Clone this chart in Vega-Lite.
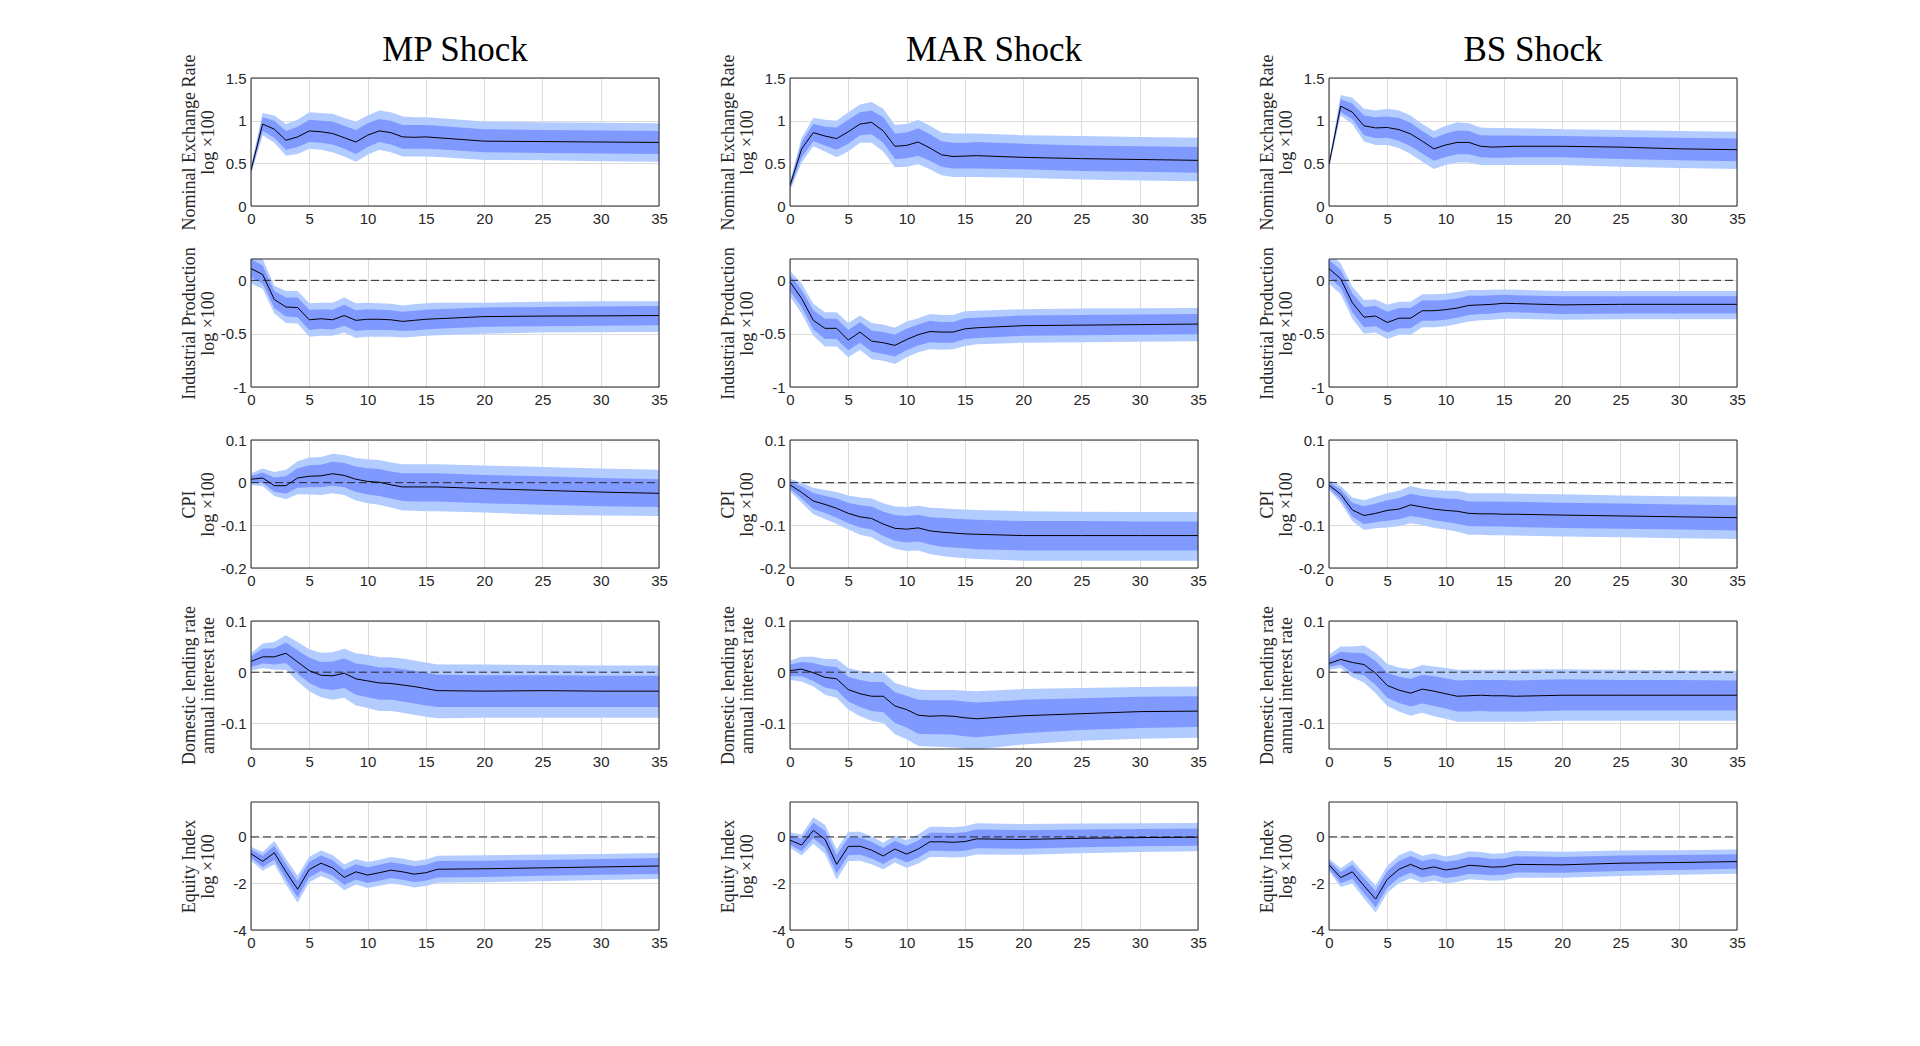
{
  "$schema": "https://vega.github.io/schema/vega-lite/v6.json",
  "background": "white",
  "padding": {"left": 180, "top": 33, "right": 5, "bottom": 5},
  "columns": 3,
  "bounds": "flush",
  "spacing": {"row": 53, "column": 131},
  "datasets": {
    "mp_ner": [
      {"h":0,"irf":0.42,"lo90":0.37,"hi90":0.47,"lo68":0.39,"hi68":0.45},
      {"h":1,"irf":0.96,"lo90":0.83,"hi90":1.09,"lo68":0.88,"hi68":1.04},
      {"h":2,"irf":0.90,"lo90":0.74,"hi90":1.06,"lo68":0.80,"hi68":1.00},
      {"h":3,"irf":0.77,"lo90":0.59,"hi90":0.96,"lo68":0.66,"hi68":0.88},
      {"h":4,"irf":0.81,"lo90":0.61,"hi90":1.01,"lo68":0.69,"hi68":0.93},
      {"h":5,"irf":0.88,"lo90":0.67,"hi90":1.10,"lo68":0.75,"hi68":1.01},
      {"h":6,"irf":0.87,"lo90":0.66,"hi90":1.09,"lo68":0.74,"hi68":1.00},
      {"h":7,"irf":0.85,"lo90":0.63,"hi90":1.08,"lo68":0.72,"hi68":0.99},
      {"h":8,"irf":0.80,"lo90":0.58,"hi90":1.03,"lo68":0.67,"hi68":0.94},
      {"h":9,"irf":0.75,"lo90":0.52,"hi90":0.99,"lo68":0.61,"hi68":0.89},
      {"h":10,"irf":0.83,"lo90":0.60,"hi90":1.06,"lo68":0.69,"hi68":0.97},
      {"h":11,"irf":0.88,"lo90":0.66,"hi90":1.12,"lo68":0.75,"hi68":1.02},
      {"h":12,"irf":0.86,"lo90":0.63,"hi90":1.10,"lo68":0.72,"hi68":1.00},
      {"h":13,"irf":0.81,"lo90":0.58,"hi90":1.05,"lo68":0.67,"hi68":0.95},
      {"h":14,"irf":0.805,"lo90":0.58,"hi90":1.04,"lo68":0.67,"hi68":0.95},
      {"h":15,"irf":0.81,"lo90":0.58,"hi90":1.04,"lo68":0.67,"hi68":0.95},
      {"h":16,"irf":0.80,"lo90":0.575,"hi90":1.03,"lo68":0.665,"hi68":0.94},
      {"h":20,"irf":0.76,"lo90":0.54,"hi90":0.99,"lo68":0.63,"hi68":0.90},
      {"h":25,"irf":0.755,"lo90":0.535,"hi90":0.98,"lo68":0.62,"hi68":0.89},
      {"h":30,"irf":0.75,"lo90":0.525,"hi90":0.975,"lo68":0.615,"hi68":0.885},
      {"h":35,"irf":0.745,"lo90":0.52,"hi90":0.97,"lo68":0.61,"hi68":0.88}
    ],
    "mar_ner": [
      {"h":0,"irf":0.24,"lo90":0.18,"hi90":0.29,"lo68":0.20,"hi68":0.27},
      {"h":1,"irf":0.67,"lo90":0.51,"hi90":0.80,"lo68":0.57,"hi68":0.75},
      {"h":2,"irf":0.86,"lo90":0.70,"hi90":1.03,"lo68":0.76,"hi68":0.96},
      {"h":3,"irf":0.82,"lo90":0.64,"hi90":1.01,"lo68":0.71,"hi68":0.93},
      {"h":4,"irf":0.79,"lo90":0.57,"hi90":1.00,"lo68":0.66,"hi68":0.92},
      {"h":5,"irf":0.87,"lo90":0.64,"hi90":1.10,"lo68":0.73,"hi68":1.01},
      {"h":6,"irf":0.96,"lo90":0.74,"hi90":1.19,"lo68":0.83,"hi68":1.10},
      {"h":7,"irf":0.98,"lo90":0.74,"hi90":1.22,"lo68":0.84,"hi68":1.12},
      {"h":8,"irf":0.88,"lo90":0.64,"hi90":1.14,"lo68":0.74,"hi68":1.04},
      {"h":9,"irf":0.70,"lo90":0.455,"hi90":0.95,"lo68":0.55,"hi68":0.85},
      {"h":10,"irf":0.71,"lo90":0.46,"hi90":0.96,"lo68":0.56,"hi68":0.86},
      {"h":11,"irf":0.75,"lo90":0.49,"hi90":1.01,"lo68":0.59,"hi68":0.91},
      {"h":12,"irf":0.68,"lo90":0.43,"hi90":0.94,"lo68":0.53,"hi68":0.84},
      {"h":13,"irf":0.60,"lo90":0.36,"hi90":0.86,"lo68":0.46,"hi68":0.76},
      {"h":14,"irf":0.58,"lo90":0.34,"hi90":0.85,"lo68":0.44,"hi68":0.74},
      {"h":15,"irf":0.585,"lo90":0.34,"hi90":0.85,"lo68":0.44,"hi68":0.74},
      {"h":16,"irf":0.59,"lo90":0.34,"hi90":0.85,"lo68":0.44,"hi68":0.75},
      {"h":20,"irf":0.57,"lo90":0.33,"hi90":0.83,"lo68":0.43,"hi68":0.73},
      {"h":25,"irf":0.555,"lo90":0.31,"hi90":0.82,"lo68":0.41,"hi68":0.71},
      {"h":30,"irf":0.545,"lo90":0.30,"hi90":0.81,"lo68":0.40,"hi68":0.70},
      {"h":35,"irf":0.535,"lo90":0.29,"hi90":0.80,"lo68":0.39,"hi68":0.69}
    ],
    "bs_ner": [
      {"h":0,"irf":0.49,"lo90":0.44,"hi90":0.51,"lo68":0.46,"hi68":0.50},
      {"h":1,"irf":1.17,"lo90":1.06,"hi90":1.30,"lo68":1.10,"hi68":1.25},
      {"h":2,"irf":1.10,"lo90":0.96,"hi90":1.27,"lo68":1.02,"hi68":1.20},
      {"h":3,"irf":0.94,"lo90":0.755,"hi90":1.14,"lo68":0.83,"hi68":1.06},
      {"h":4,"irf":0.915,"lo90":0.715,"hi90":1.12,"lo68":0.795,"hi68":1.04},
      {"h":5,"irf":0.92,"lo90":0.715,"hi90":1.14,"lo68":0.80,"hi68":1.05},
      {"h":6,"irf":0.895,"lo90":0.68,"hi90":1.12,"lo68":0.765,"hi68":1.03},
      {"h":7,"irf":0.845,"lo90":0.61,"hi90":1.06,"lo68":0.70,"hi68":0.975},
      {"h":8,"irf":0.76,"lo90":0.52,"hi90":0.96,"lo68":0.615,"hi68":0.88},
      {"h":9,"irf":0.67,"lo90":0.435,"hi90":0.88,"lo68":0.53,"hi68":0.795},
      {"h":10,"irf":0.715,"lo90":0.48,"hi90":0.94,"lo68":0.575,"hi68":0.85},
      {"h":11,"irf":0.745,"lo90":0.51,"hi90":0.98,"lo68":0.605,"hi68":0.885},
      {"h":12,"irf":0.745,"lo90":0.51,"hi90":0.97,"lo68":0.605,"hi68":0.88},
      {"h":13,"irf":0.70,"lo90":0.48,"hi90":0.92,"lo68":0.57,"hi68":0.83},
      {"h":14,"irf":0.69,"lo90":0.48,"hi90":0.915,"lo68":0.565,"hi68":0.825},
      {"h":15,"irf":0.695,"lo90":0.48,"hi90":0.915,"lo68":0.565,"hi68":0.825},
      {"h":16,"irf":0.70,"lo90":0.48,"hi90":0.912,"lo68":0.57,"hi68":0.825},
      {"h":20,"irf":0.70,"lo90":0.48,"hi90":0.90,"lo68":0.57,"hi68":0.82},
      {"h":25,"irf":0.69,"lo90":0.46,"hi90":0.89,"lo68":0.55,"hi68":0.81},
      {"h":30,"irf":0.67,"lo90":0.445,"hi90":0.88,"lo68":0.535,"hi68":0.80},
      {"h":35,"irf":0.66,"lo90":0.435,"hi90":0.87,"lo68":0.525,"hi68":0.79}
    ],
    "mp_ip": [
      {"h":0,"irf":0.11,"lo90":-0.03,"hi90":0.26,"lo68":0.03,"hi68":0.20},
      {"h":1,"irf":0.055,"lo90":-0.08,"hi90":0.20,"lo68":-0.03,"hi68":0.14},
      {"h":2,"irf":-0.18,"lo90":-0.31,"hi90":-0.05,"lo68":-0.26,"hi68":-0.10},
      {"h":3,"irf":-0.25,"lo90":-0.40,"hi90":-0.10,"lo68":-0.34,"hi68":-0.16},
      {"h":4,"irf":-0.255,"lo90":-0.405,"hi90":-0.10,"lo68":-0.345,"hi68":-0.16},
      {"h":5,"irf":-0.37,"lo90":-0.53,"hi90":-0.215,"lo68":-0.465,"hi68":-0.275},
      {"h":6,"irf":-0.36,"lo90":-0.52,"hi90":-0.21,"lo68":-0.455,"hi68":-0.27},
      {"h":7,"irf":-0.37,"lo90":-0.52,"hi90":-0.21,"lo68":-0.46,"hi68":-0.275},
      {"h":8,"irf":-0.33,"lo90":-0.49,"hi90":-0.16,"lo68":-0.425,"hi68":-0.23},
      {"h":9,"irf":-0.375,"lo90":-0.54,"hi90":-0.215,"lo68":-0.475,"hi68":-0.28},
      {"h":10,"irf":-0.365,"lo90":-0.53,"hi90":-0.21,"lo68":-0.465,"hi68":-0.27},
      {"h":11,"irf":-0.365,"lo90":-0.53,"hi90":-0.215,"lo68":-0.465,"hi68":-0.275},
      {"h":12,"irf":-0.37,"lo90":-0.53,"hi90":-0.22,"lo68":-0.465,"hi68":-0.28},
      {"h":13,"irf":-0.385,"lo90":-0.535,"hi90":-0.235,"lo68":-0.475,"hi68":-0.295},
      {"h":14,"irf":-0.375,"lo90":-0.53,"hi90":-0.225,"lo68":-0.47,"hi68":-0.285},
      {"h":15,"irf":-0.365,"lo90":-0.52,"hi90":-0.215,"lo68":-0.46,"hi68":-0.275},
      {"h":16,"irf":-0.36,"lo90":-0.515,"hi90":-0.21,"lo68":-0.455,"hi68":-0.27},
      {"h":20,"irf":-0.34,"lo90":-0.50,"hi90":-0.21,"lo68":-0.435,"hi68":-0.255},
      {"h":25,"irf":-0.335,"lo90":-0.49,"hi90":-0.20,"lo68":-0.43,"hi68":-0.25},
      {"h":30,"irf":-0.333,"lo90":-0.487,"hi90":-0.197,"lo68":-0.425,"hi68":-0.245},
      {"h":35,"irf":-0.33,"lo90":-0.485,"hi90":-0.195,"lo68":-0.42,"hi68":-0.24}
    ],
    "mar_ip": [
      {"h":0,"irf":-0.015,"lo90":-0.15,"hi90":0.09,"lo68":-0.10,"hi68":0.05},
      {"h":1,"irf":-0.17,"lo90":-0.31,"hi90":-0.03,"lo68":-0.25,"hi68":-0.09},
      {"h":2,"irf":-0.375,"lo90":-0.52,"hi90":-0.22,"lo68":-0.46,"hi68":-0.28},
      {"h":3,"irf":-0.45,"lo90":-0.62,"hi90":-0.30,"lo68":-0.55,"hi68":-0.36},
      {"h":4,"irf":-0.45,"lo90":-0.62,"hi90":-0.30,"lo68":-0.55,"hi68":-0.36},
      {"h":5,"irf":-0.56,"lo90":-0.72,"hi90":-0.40,"lo68":-0.655,"hi68":-0.465},
      {"h":6,"irf":-0.485,"lo90":-0.65,"hi90":-0.33,"lo68":-0.585,"hi68":-0.39},
      {"h":7,"irf":-0.57,"lo90":-0.74,"hi90":-0.40,"lo68":-0.67,"hi68":-0.47},
      {"h":8,"irf":-0.585,"lo90":-0.755,"hi90":-0.415,"lo68":-0.69,"hi68":-0.485},
      {"h":9,"irf":-0.61,"lo90":-0.785,"hi90":-0.445,"lo68":-0.715,"hi68":-0.51},
      {"h":10,"irf":-0.555,"lo90":-0.72,"hi90":-0.385,"lo68":-0.655,"hi68":-0.455},
      {"h":11,"irf":-0.51,"lo90":-0.675,"hi90":-0.355,"lo68":-0.61,"hi68":-0.415},
      {"h":12,"irf":-0.48,"lo90":-0.645,"hi90":-0.315,"lo68":-0.58,"hi68":-0.38},
      {"h":13,"irf":-0.485,"lo90":-0.65,"hi90":-0.325,"lo68":-0.585,"hi68":-0.39},
      {"h":14,"irf":-0.485,"lo90":-0.645,"hi90":-0.325,"lo68":-0.585,"hi68":-0.39},
      {"h":15,"irf":-0.455,"lo90":-0.615,"hi90":-0.29,"lo68":-0.55,"hi68":-0.355},
      {"h":16,"irf":-0.445,"lo90":-0.60,"hi90":-0.285,"lo68":-0.54,"hi68":-0.35},
      {"h":20,"irf":-0.425,"lo90":-0.585,"hi90":-0.27,"lo68":-0.52,"hi68":-0.33},
      {"h":25,"irf":-0.42,"lo90":-0.58,"hi90":-0.265,"lo68":-0.515,"hi68":-0.325},
      {"h":30,"irf":-0.415,"lo90":-0.575,"hi90":-0.262,"lo68":-0.51,"hi68":-0.32},
      {"h":35,"irf":-0.41,"lo90":-0.57,"hi90":-0.26,"lo68":-0.505,"hi68":-0.315}
    ],
    "bs_ip": [
      {"h":0,"irf":0.11,"lo90":-0.03,"hi90":0.25,"lo68":0.03,"hi68":0.19},
      {"h":1,"irf":0.015,"lo90":-0.13,"hi90":0.16,"lo68":-0.07,"hi68":0.10},
      {"h":2,"irf":-0.21,"lo90":-0.36,"hi90":-0.06,"lo68":-0.30,"hi68":-0.12},
      {"h":3,"irf":-0.345,"lo90":-0.50,"hi90":-0.185,"lo68":-0.44,"hi68":-0.25},
      {"h":4,"irf":-0.335,"lo90":-0.49,"hi90":-0.18,"lo68":-0.43,"hi68":-0.24},
      {"h":5,"irf":-0.395,"lo90":-0.55,"hi90":-0.23,"lo68":-0.49,"hi68":-0.295},
      {"h":6,"irf":-0.355,"lo90":-0.51,"hi90":-0.20,"lo68":-0.45,"hi68":-0.26},
      {"h":7,"irf":-0.355,"lo90":-0.51,"hi90":-0.20,"lo68":-0.45,"hi68":-0.26},
      {"h":8,"irf":-0.285,"lo90":-0.44,"hi90":-0.13,"lo68":-0.38,"hi68":-0.19},
      {"h":9,"irf":-0.285,"lo90":-0.44,"hi90":-0.13,"lo68":-0.38,"hi68":-0.19},
      {"h":10,"irf":-0.275,"lo90":-0.43,"hi90":-0.125,"lo68":-0.37,"hi68":-0.185},
      {"h":11,"irf":-0.26,"lo90":-0.41,"hi90":-0.11,"lo68":-0.35,"hi68":-0.17},
      {"h":12,"irf":-0.235,"lo90":-0.385,"hi90":-0.09,"lo68":-0.325,"hi68":-0.145},
      {"h":13,"irf":-0.23,"lo90":-0.375,"hi90":-0.09,"lo68":-0.315,"hi68":-0.145},
      {"h":14,"irf":-0.225,"lo90":-0.37,"hi90":-0.088,"lo68":-0.31,"hi68":-0.14},
      {"h":15,"irf":-0.215,"lo90":-0.36,"hi90":-0.085,"lo68":-0.30,"hi68":-0.135},
      {"h":16,"irf":-0.218,"lo90":-0.36,"hi90":-0.088,"lo68":-0.30,"hi68":-0.14},
      {"h":20,"irf":-0.23,"lo90":-0.37,"hi90":-0.10,"lo68":-0.315,"hi68":-0.15},
      {"h":25,"irf":-0.225,"lo90":-0.365,"hi90":-0.10,"lo68":-0.31,"hi68":-0.15},
      {"h":30,"irf":-0.225,"lo90":-0.365,"hi90":-0.10,"lo68":-0.31,"hi68":-0.15},
      {"h":35,"irf":-0.225,"lo90":-0.365,"hi90":-0.10,"lo68":-0.31,"hi68":-0.15}
    ],
    "mp_cpi": [
      {"h":0,"irf":0.008,"lo90":-0.006,"hi90":0.022,"lo68":0.0,"hi68":0.016},
      {"h":1,"irf":0.011,"lo90":-0.008,"hi90":0.033,"lo68":0.0,"hi68":0.024},
      {"h":2,"irf":-0.007,"lo90":-0.031,"hi90":0.025,"lo68":-0.021,"hi68":0.012},
      {"h":3,"irf":-0.007,"lo90":-0.039,"hi90":0.03,"lo68":-0.026,"hi68":0.015},
      {"h":4,"irf":0.011,"lo90":-0.027,"hi90":0.05,"lo68":-0.012,"hi68":0.034},
      {"h":5,"irf":0.015,"lo90":-0.028,"hi90":0.059,"lo68":-0.011,"hi68":0.041},
      {"h":6,"irf":0.016,"lo90":-0.029,"hi90":0.06,"lo68":-0.011,"hi68":0.042},
      {"h":7,"irf":0.021,"lo90":-0.025,"hi90":0.068,"lo68":-0.007,"hi68":0.049},
      {"h":8,"irf":0.017,"lo90":-0.029,"hi90":0.065,"lo68":-0.011,"hi68":0.046},
      {"h":9,"irf":0.008,"lo90":-0.042,"hi90":0.058,"lo68":-0.022,"hi68":0.038},
      {"h":10,"irf":0.003,"lo90":-0.048,"hi90":0.055,"lo68":-0.028,"hi68":0.034},
      {"h":11,"irf":0.001,"lo90":-0.052,"hi90":0.053,"lo68":-0.031,"hi68":0.032},
      {"h":12,"irf":-0.005,"lo90":-0.058,"hi90":0.047,"lo68":-0.037,"hi68":0.026},
      {"h":13,"irf":-0.01,"lo90":-0.065,"hi90":0.043,"lo68":-0.043,"hi68":0.022},
      {"h":14,"irf":-0.01,"lo90":-0.066,"hi90":0.043,"lo68":-0.044,"hi68":0.022},
      {"h":15,"irf":-0.01,"lo90":-0.067,"hi90":0.043,"lo68":-0.044,"hi68":0.022},
      {"h":16,"irf":-0.01,"lo90":-0.067,"hi90":0.043,"lo68":-0.044,"hi68":0.022},
      {"h":20,"irf":-0.014,"lo90":-0.07,"hi90":0.04,"lo68":-0.048,"hi68":0.018},
      {"h":25,"irf":-0.018,"lo90":-0.075,"hi90":0.037,"lo68":-0.052,"hi68":0.015},
      {"h":30,"irf":-0.022,"lo90":-0.077,"hi90":0.033,"lo68":-0.055,"hi68":0.011},
      {"h":35,"irf":-0.025,"lo90":-0.078,"hi90":0.03,"lo68":-0.057,"hi68":0.008}
    ],
    "mar_cpi": [
      {"h":0,"irf":-0.005,"lo90":-0.02,"hi90":0.009,"lo68":-0.014,"hi68":0.003},
      {"h":1,"irf":-0.023,"lo90":-0.047,"hi90":0.0,"lo68":-0.037,"hi68":-0.009},
      {"h":2,"irf":-0.043,"lo90":-0.074,"hi90":-0.012,"lo68":-0.062,"hi68":-0.024},
      {"h":3,"irf":-0.051,"lo90":-0.085,"hi90":-0.017,"lo68":-0.071,"hi68":-0.031},
      {"h":4,"irf":-0.06,"lo90":-0.097,"hi90":-0.022,"lo68":-0.082,"hi68":-0.037},
      {"h":5,"irf":-0.072,"lo90":-0.11,"hi90":-0.03,"lo68":-0.095,"hi68":-0.047},
      {"h":6,"irf":-0.08,"lo90":-0.122,"hi90":-0.035,"lo68":-0.105,"hi68":-0.053},
      {"h":7,"irf":-0.084,"lo90":-0.128,"hi90":-0.037,"lo68":-0.11,"hi68":-0.056},
      {"h":8,"irf":-0.097,"lo90":-0.144,"hi90":-0.048,"lo68":-0.125,"hi68":-0.068},
      {"h":9,"irf":-0.107,"lo90":-0.155,"hi90":-0.056,"lo68":-0.136,"hi68":-0.076},
      {"h":10,"irf":-0.109,"lo90":-0.16,"hi90":-0.057,"lo68":-0.14,"hi68":-0.078},
      {"h":11,"irf":-0.106,"lo90":-0.159,"hi90":-0.054,"lo68":-0.138,"hi68":-0.075},
      {"h":12,"irf":-0.113,"lo90":-0.167,"hi90":-0.059,"lo68":-0.145,"hi68":-0.081},
      {"h":13,"irf":-0.116,"lo90":-0.172,"hi90":-0.06,"lo68":-0.15,"hi68":-0.082},
      {"h":14,"irf":-0.118,"lo90":-0.175,"hi90":-0.062,"lo68":-0.152,"hi68":-0.084},
      {"h":15,"irf":-0.12,"lo90":-0.177,"hi90":-0.063,"lo68":-0.154,"hi68":-0.086},
      {"h":16,"irf":-0.121,"lo90":-0.179,"hi90":-0.064,"lo68":-0.156,"hi68":-0.087},
      {"h":20,"irf":-0.124,"lo90":-0.183,"hi90":-0.067,"lo68":-0.159,"hi68":-0.09},
      {"h":25,"irf":-0.124,"lo90":-0.183,"hi90":-0.068,"lo68":-0.159,"hi68":-0.09},
      {"h":30,"irf":-0.124,"lo90":-0.183,"hi90":-0.069,"lo68":-0.159,"hi68":-0.091},
      {"h":35,"irf":-0.124,"lo90":-0.183,"hi90":-0.069,"lo68":-0.159,"hi68":-0.091}
    ],
    "bs_cpi": [
      {"h":0,"irf":-0.006,"lo90":-0.017,"hi90":0.006,"lo68":-0.013,"hi68":0.001},
      {"h":1,"irf":-0.027,"lo90":-0.047,"hi90":-0.008,"lo68":-0.039,"hi68":-0.016},
      {"h":2,"irf":-0.064,"lo90":-0.09,"hi90":-0.035,"lo68":-0.08,"hi68":-0.047},
      {"h":3,"irf":-0.077,"lo90":-0.111,"hi90":-0.041,"lo68":-0.097,"hi68":-0.055},
      {"h":4,"irf":-0.072,"lo90":-0.107,"hi90":-0.033,"lo68":-0.093,"hi68":-0.049},
      {"h":5,"irf":-0.065,"lo90":-0.105,"hi90":-0.025,"lo68":-0.089,"hi68":-0.041},
      {"h":6,"irf":-0.062,"lo90":-0.102,"hi90":-0.019,"lo68":-0.086,"hi68":-0.036},
      {"h":7,"irf":-0.052,"lo90":-0.095,"hi90":-0.008,"lo68":-0.078,"hi68":-0.026},
      {"h":8,"irf":-0.057,"lo90":-0.099,"hi90":-0.014,"lo68":-0.082,"hi68":-0.031},
      {"h":9,"irf":-0.062,"lo90":-0.106,"hi90":-0.017,"lo68":-0.088,"hi68":-0.035},
      {"h":10,"irf":-0.065,"lo90":-0.11,"hi90":-0.019,"lo68":-0.092,"hi68":-0.037},
      {"h":11,"irf":-0.067,"lo90":-0.115,"hi90":-0.019,"lo68":-0.096,"hi68":-0.038},
      {"h":12,"irf":-0.072,"lo90":-0.122,"hi90":-0.025,"lo68":-0.102,"hi68":-0.044},
      {"h":13,"irf":-0.073,"lo90":-0.122,"hi90":-0.025,"lo68":-0.102,"hi68":-0.044},
      {"h":14,"irf":-0.073,"lo90":-0.123,"hi90":-0.025,"lo68":-0.103,"hi68":-0.044},
      {"h":15,"irf":-0.074,"lo90":-0.123,"hi90":-0.025,"lo68":-0.103,"hi68":-0.045},
      {"h":16,"irf":-0.074,"lo90":-0.124,"hi90":-0.026,"lo68":-0.104,"hi68":-0.045},
      {"h":20,"irf":-0.076,"lo90":-0.126,"hi90":-0.027,"lo68":-0.106,"hi68":-0.047},
      {"h":25,"irf":-0.078,"lo90":-0.128,"hi90":-0.03,"lo68":-0.108,"hi68":-0.049},
      {"h":30,"irf":-0.08,"lo90":-0.13,"hi90":-0.032,"lo68":-0.11,"hi68":-0.051},
      {"h":35,"irf":-0.082,"lo90":-0.132,"hi90":-0.033,"lo68":-0.112,"hi68":-0.053}
    ],
    "mp_lend": [
      {"h":0,"irf":0.021,"lo90":0.003,"hi90":0.037,"lo68":0.010,"hi68":0.031},
      {"h":1,"irf":0.030,"lo90":0.008,"hi90":0.056,"lo68":0.017,"hi68":0.046},
      {"h":2,"irf":0.030,"lo90":0.005,"hi90":0.059,"lo68":0.015,"hi68":0.047},
      {"h":3,"irf":0.037,"lo90":0.005,"hi90":0.072,"lo68":0.018,"hi68":0.058},
      {"h":4,"irf":0.020,"lo90":-0.018,"hi90":0.059,"lo68":-0.003,"hi68":0.043},
      {"h":5,"irf":0.003,"lo90":-0.037,"hi90":0.045,"lo68":-0.021,"hi68":0.028},
      {"h":6,"irf":-0.006,"lo90":-0.049,"hi90":0.038,"lo68":-0.032,"hi68":0.020},
      {"h":7,"irf":-0.007,"lo90":-0.054,"hi90":0.039,"lo68":-0.035,"hi68":0.021},
      {"h":8,"irf":-0.002,"lo90":-0.050,"hi90":0.046,"lo68":-0.031,"hi68":0.027},
      {"h":9,"irf":-0.013,"lo90":-0.065,"hi90":0.037,"lo68":-0.044,"hi68":0.017},
      {"h":10,"irf":-0.017,"lo90":-0.070,"hi90":0.034,"lo68":-0.049,"hi68":0.014},
      {"h":11,"irf":-0.021,"lo90":-0.076,"hi90":0.029,"lo68":-0.054,"hi68":0.009},
      {"h":12,"irf":-0.022,"lo90":-0.076,"hi90":0.029,"lo68":-0.054,"hi68":0.009},
      {"h":13,"irf":-0.025,"lo90":-0.079,"hi90":0.027,"lo68":-0.057,"hi68":0.006},
      {"h":14,"irf":-0.028,"lo90":-0.083,"hi90":0.023,"lo68":-0.061,"hi68":0.003},
      {"h":15,"irf":-0.032,"lo90":-0.087,"hi90":0.019,"lo68":-0.065,"hi68":-0.001},
      {"h":16,"irf":-0.036,"lo90":-0.090,"hi90":0.015,"lo68":-0.068,"hi68":-0.005},
      {"h":20,"irf":-0.037,"lo90":-0.089,"hi90":0.015,"lo68":-0.068,"hi68":-0.006},
      {"h":25,"irf":-0.036,"lo90":-0.089,"hi90":0.014,"lo68":-0.068,"hi68":-0.006},
      {"h":30,"irf":-0.037,"lo90":-0.089,"hi90":0.013,"lo68":-0.068,"hi68":-0.007},
      {"h":35,"irf":-0.037,"lo90":-0.089,"hi90":0.013,"lo68":-0.068,"hi68":-0.007}
    ],
    "mar_lend": [
      {"h":0,"irf":0.003,"lo90":-0.015,"hi90":0.023,"lo68":-0.008,"hi68":0.015},
      {"h":1,"irf":0.006,"lo90":-0.018,"hi90":0.030,"lo68":-0.008,"hi68":0.020},
      {"h":2,"irf":-0.001,"lo90":-0.028,"hi90":0.030,"lo68":-0.017,"hi68":0.018},
      {"h":3,"irf":-0.010,"lo90":-0.044,"hi90":0.026,"lo68":-0.030,"hi68":0.012},
      {"h":4,"irf":-0.013,"lo90":-0.050,"hi90":0.026,"lo68":-0.035,"hi68":0.010},
      {"h":5,"irf":-0.034,"lo90":-0.073,"hi90":0.008,"lo68":-0.057,"hi68":-0.009},
      {"h":6,"irf":-0.042,"lo90":-0.086,"hi90":0.003,"lo68":-0.068,"hi68":-0.015},
      {"h":7,"irf":-0.047,"lo90":-0.095,"hi90":0.0,"lo68":-0.076,"hi68":-0.019},
      {"h":8,"irf":-0.047,"lo90":-0.099,"hi90":0.0,"lo68":-0.078,"hi68":-0.019},
      {"h":9,"irf":-0.066,"lo90":-0.121,"hi90":-0.021,"lo68":-0.099,"hi68":-0.039},
      {"h":10,"irf":-0.073,"lo90":-0.131,"hi90":-0.028,"lo68":-0.108,"hi68":-0.046},
      {"h":11,"irf":-0.084,"lo90":-0.144,"hi90":-0.034,"lo68":-0.120,"hi68":-0.054},
      {"h":12,"irf":-0.086,"lo90":-0.145,"hi90":-0.035,"lo68":-0.121,"hi68":-0.055},
      {"h":13,"irf":-0.085,"lo90":-0.146,"hi90":-0.035,"lo68":-0.121,"hi68":-0.055},
      {"h":14,"irf":-0.086,"lo90":-0.147,"hi90":-0.035,"lo68":-0.122,"hi68":-0.055},
      {"h":15,"irf":-0.089,"lo90":-0.149,"hi90":-0.036,"lo68":-0.125,"hi68":-0.057},
      {"h":16,"irf":-0.091,"lo90":-0.151,"hi90":-0.037,"lo68":-0.127,"hi68":-0.059},
      {"h":20,"irf":-0.085,"lo90":-0.141,"hi90":-0.033,"lo68":-0.119,"hi68":-0.054},
      {"h":25,"irf":-0.081,"lo90":-0.134,"hi90":-0.031,"lo68":-0.113,"hi68":-0.051},
      {"h":30,"irf":-0.077,"lo90":-0.130,"hi90":-0.029,"lo68":-0.109,"hi68":-0.048},
      {"h":35,"irf":-0.076,"lo90":-0.128,"hi90":-0.028,"lo68":-0.107,"hi68":-0.047}
    ],
    "bs_lend": [
      {"h":0,"irf":0.017,"lo90":0.005,"hi90":0.034,"lo68":0.010,"hi68":0.027},
      {"h":1,"irf":0.025,"lo90":0.008,"hi90":0.050,"lo68":0.015,"hi68":0.040},
      {"h":2,"irf":0.019,"lo90":-0.010,"hi90":0.050,"lo68":-0.002,"hi68":0.038},
      {"h":3,"irf":0.015,"lo90":-0.020,"hi90":0.052,"lo68":-0.006,"hi68":0.037},
      {"h":4,"irf":-0.002,"lo90":-0.041,"hi90":0.038,"lo68":-0.025,"hi68":0.022},
      {"h":5,"irf":-0.026,"lo90":-0.066,"hi90":0.016,"lo68":-0.050,"hi68":-0.001},
      {"h":6,"irf":-0.035,"lo90":-0.077,"hi90":0.009,"lo68":-0.060,"hi68":-0.009},
      {"h":7,"irf":-0.041,"lo90":-0.085,"hi90":0.006,"lo68":-0.067,"hi68":-0.013},
      {"h":8,"irf":-0.033,"lo90":-0.079,"hi90":0.014,"lo68":-0.061,"hi68":-0.005},
      {"h":9,"irf":-0.037,"lo90":-0.086,"hi90":0.011,"lo68":-0.066,"hi68":-0.008},
      {"h":10,"irf":-0.042,"lo90":-0.091,"hi90":0.008,"lo68":-0.071,"hi68":-0.012},
      {"h":11,"irf":-0.047,"lo90":-0.097,"hi90":0.005,"lo68":-0.077,"hi68":-0.016},
      {"h":12,"irf":-0.046,"lo90":-0.097,"hi90":0.005,"lo68":-0.077,"hi68":-0.015},
      {"h":13,"irf":-0.045,"lo90":-0.097,"hi90":0.005,"lo68":-0.076,"hi68":-0.015},
      {"h":14,"irf":-0.046,"lo90":-0.097,"hi90":0.005,"lo68":-0.077,"hi68":-0.015},
      {"h":15,"irf":-0.046,"lo90":-0.097,"hi90":0.005,"lo68":-0.077,"hi68":-0.015},
      {"h":16,"irf":-0.047,"lo90":-0.097,"hi90":0.005,"lo68":-0.077,"hi68":-0.016},
      {"h":20,"irf":-0.045,"lo90":-0.095,"hi90":0.006,"lo68":-0.075,"hi68":-0.014},
      {"h":25,"irf":-0.045,"lo90":-0.095,"hi90":0.005,"lo68":-0.075,"hi68":-0.015},
      {"h":30,"irf":-0.045,"lo90":-0.095,"hi90":0.004,"lo68":-0.075,"hi68":-0.015},
      {"h":35,"irf":-0.045,"lo90":-0.095,"hi90":0.003,"lo68":-0.075,"hi68":-0.016}
    ],
    "mp_eq": [
      {"h":0,"irf":-0.72,"lo90":-1.02,"hi90":-0.42,"lo68":-0.90,"hi68":-0.54},
      {"h":1,"irf":-1.05,"lo90":-1.45,"hi90":-0.65,"lo68":-1.29,"hi68":-0.81},
      {"h":2,"irf":-0.68,"lo90":-1.18,"hi90":-0.18,"lo68":-0.98,"hi68":-0.38},
      {"h":3,"irf":-1.5,"lo90":-2.05,"hi90":-0.95,"lo68":-1.83,"hi68":-1.17},
      {"h":4,"irf":-2.25,"lo90":-2.83,"hi90":-1.67,"lo68":-2.6,"hi68":-1.9},
      {"h":5,"irf":-1.4,"lo90":-1.95,"hi90":-0.85,"lo68":-1.73,"hi68":-1.07},
      {"h":6,"irf":-1.13,"lo90":-1.68,"hi90":-0.58,"lo68":-1.46,"hi68":-0.80},
      {"h":7,"irf":-1.33,"lo90":-1.88,"hi90":-0.78,"lo68":-1.66,"hi68":-1.0},
      {"h":8,"irf":-1.74,"lo90":-2.29,"hi90":-1.19,"lo68":-2.07,"hi68":-1.41},
      {"h":9,"irf":-1.5,"lo90":-2.05,"hi90":-0.95,"lo68":-1.83,"hi68":-1.17},
      {"h":10,"irf":-1.64,"lo90":-2.2,"hi90":-1.08,"lo68":-1.98,"hi68":-1.3},
      {"h":11,"irf":-1.54,"lo90":-2.1,"hi90":-0.98,"lo68":-1.88,"hi68":-1.2},
      {"h":12,"irf":-1.43,"lo90":-2.0,"hi90":-0.86,"lo68":-1.77,"hi68":-1.09},
      {"h":13,"irf":-1.5,"lo90":-2.07,"hi90":-0.93,"lo68":-1.84,"hi68":-1.16},
      {"h":14,"irf":-1.6,"lo90":-2.17,"hi90":-1.03,"lo68":-1.94,"hi68":-1.26},
      {"h":15,"irf":-1.54,"lo90":-2.11,"hi90":-0.97,"lo68":-1.88,"hi68":-1.2},
      {"h":16,"irf":-1.39,"lo90":-1.97,"hi90":-0.81,"lo68":-1.74,"hi68":-1.04},
      {"h":20,"irf":-1.37,"lo90":-1.95,"hi90":-0.79,"lo68":-1.72,"hi68":-1.02},
      {"h":25,"irf":-1.33,"lo90":-1.9,"hi90":-0.76,"lo68":-1.67,"hi68":-0.99},
      {"h":30,"irf":-1.29,"lo90":-1.85,"hi90":-0.73,"lo68":-1.63,"hi68":-0.95},
      {"h":35,"irf":-1.25,"lo90":-1.81,"hi90":-0.69,"lo68":-1.59,"hi68":-0.91}
    ],
    "mar_eq": [
      {"h":0,"irf":-0.14,"lo90":-0.47,"hi90":0.19,"lo68":-0.34,"hi68":0.06},
      {"h":1,"irf":-0.35,"lo90":-0.8,"hi90":0.1,"lo68":-0.62,"hi68":-0.08},
      {"h":2,"irf":0.28,"lo90":-0.29,"hi90":0.85,"lo68":-0.06,"hi68":0.62},
      {"h":3,"irf":-0.1,"lo90":-0.72,"hi90":0.52,"lo68":-0.47,"hi68":0.27},
      {"h":4,"irf":-1.18,"lo90":-1.83,"hi90":-0.53,"lo68":-1.57,"hi68":-0.79},
      {"h":5,"irf":-0.41,"lo90":-1.04,"hi90":0.22,"lo68":-0.79,"hi68":-0.03},
      {"h":6,"irf":-0.4,"lo90":-1.02,"hi90":0.22,"lo68":-0.77,"hi68":-0.03},
      {"h":7,"irf":-0.57,"lo90":-1.17,"hi90":0.03,"lo68":-0.93,"hi68":-0.21},
      {"h":8,"irf":-0.82,"lo90":-1.39,"hi90":-0.25,"lo68":-1.16,"hi68":-0.48},
      {"h":9,"irf":-0.52,"lo90":-1.1,"hi90":0.06,"lo68":-0.87,"hi68":-0.17},
      {"h":10,"irf":-0.74,"lo90":-1.34,"hi90":-0.14,"lo68":-1.1,"hi68":-0.38},
      {"h":11,"irf":-0.52,"lo90":-1.14,"hi90":0.1,"lo68":-0.89,"hi68":-0.15},
      {"h":12,"irf":-0.21,"lo90":-0.86,"hi90":0.44,"lo68":-0.6,"hi68":0.18},
      {"h":13,"irf":-0.21,"lo90":-0.86,"hi90":0.44,"lo68":-0.6,"hi68":0.18},
      {"h":14,"irf":-0.23,"lo90":-0.88,"hi90":0.42,"lo68":-0.62,"hi68":0.16},
      {"h":15,"irf":-0.2,"lo90":-0.86,"hi90":0.46,"lo68":-0.6,"hi68":0.2},
      {"h":16,"irf":-0.085,"lo90":-0.755,"hi90":0.585,"lo68":-0.49,"hi68":0.32},
      {"h":20,"irf":-0.11,"lo90":-0.77,"hi90":0.55,"lo68":-0.51,"hi68":0.29},
      {"h":25,"irf":-0.06,"lo90":-0.7,"hi90":0.58,"lo68":-0.44,"hi68":0.32},
      {"h":30,"irf":-0.03,"lo90":-0.65,"hi90":0.59,"lo68":-0.4,"hi68":0.34},
      {"h":35,"irf":-0.01,"lo90":-0.62,"hi90":0.6,"lo68":-0.38,"hi68":0.36}
    ],
    "bs_eq": [
      {"h":0,"irf":-1.2,"lo90":-1.48,"hi90":-0.92,"lo68":-1.37,"hi68":-1.03},
      {"h":1,"irf":-1.75,"lo90":-2.15,"hi90":-1.35,"lo68":-1.99,"hi68":-1.51},
      {"h":2,"irf":-1.5,"lo90":-2.0,"hi90":-1.0,"lo68":-1.8,"hi68":-1.2},
      {"h":3,"irf":-2.1,"lo90":-2.65,"hi90":-1.55,"lo68":-2.43,"hi68":-1.77},
      {"h":4,"irf":-2.67,"lo90":-3.25,"hi90":-2.09,"lo68":-3.02,"hi68":-2.32},
      {"h":5,"irf":-1.82,"lo90":-2.4,"hi90":-1.24,"lo68":-2.17,"hi68":-1.47},
      {"h":6,"irf":-1.39,"lo90":-1.99,"hi90":-0.79,"lo68":-1.75,"hi68":-1.03},
      {"h":7,"irf":-1.18,"lo90":-1.78,"hi90":-0.58,"lo68":-1.54,"hi68":-0.82},
      {"h":8,"irf":-1.39,"lo90":-1.97,"hi90":-0.81,"lo68":-1.74,"hi68":-1.04},
      {"h":9,"irf":-1.29,"lo90":-1.87,"hi90":-0.71,"lo68":-1.64,"hi68":-0.94},
      {"h":10,"irf":-1.42,"lo90":-2.0,"hi90":-0.84,"lo68":-1.77,"hi68":-1.07},
      {"h":11,"irf":-1.35,"lo90":-1.94,"hi90":-0.76,"lo68":-1.7,"hi68":-1.0},
      {"h":12,"irf":-1.22,"lo90":-1.82,"hi90":-0.62,"lo68":-1.58,"hi68":-0.86},
      {"h":13,"irf":-1.25,"lo90":-1.85,"hi90":-0.65,"lo68":-1.61,"hi68":-0.89},
      {"h":14,"irf":-1.3,"lo90":-1.88,"hi90":-0.72,"lo68":-1.65,"hi68":-0.95},
      {"h":15,"irf":-1.28,"lo90":-1.86,"hi90":-0.7,"lo68":-1.63,"hi68":-0.93},
      {"h":16,"irf":-1.18,"lo90":-1.76,"hi90":-0.6,"lo68":-1.53,"hi68":-0.83},
      {"h":20,"irf":-1.2,"lo90":-1.76,"hi90":-0.64,"lo68":-1.54,"hi68":-0.86},
      {"h":25,"irf":-1.13,"lo90":-1.68,"hi90":-0.58,"lo68":-1.46,"hi68":-0.8},
      {"h":30,"irf":-1.1,"lo90":-1.63,"hi90":-0.57,"lo68":-1.42,"hi68":-0.78},
      {"h":35,"irf":-1.06,"lo90":-1.58,"hi90":-0.54,"lo68":-1.37,"hi68":-0.75}
    ]
  },
  "concat": [
    {"data":{"name":"mp_ner"},"title":{"text":"MP Shock"},
     "encoding":{"x":{"field":"h","type":"quantitative","scale":{"domain":[0,35],"nice":false},"axis":{"values":[0,5,10,15,20,25,30,35],"title":null}}},
     "layer":[
      {"mark":{"type":"area","color":"#b3ccff","clip":true},"encoding":{"y":{"field":"lo90","type":"quantitative","scale":{"domain":[0,1.5],"nice":false,"zero":false},"axis":{"values":[0,0.5,1,1.5],"title":["Nominal Exchange Rate","log ×100"]}},"y2":{"field":"hi90"}}},
      {"mark":{"type":"area","color":"#8099ff","clip":true},"encoding":{"y":{"field":"lo68","type":"quantitative"},"y2":{"field":"hi68"}}},
      {"mark":{"type":"line","color":"#000000","strokeWidth":1,"clip":true},"encoding":{"y":{"field":"irf","type":"quantitative"}}},
      {"transform":[{"filter":"datum.h == 0"}],"mark":{"type":"rect","filled":false,"stroke":"#262626","strokeWidth":1},"encoding":{"x":{"datum":0},"x2":{"datum":35},"y":{"datum":0},"y2":{"datum":1.5}}}
     ]},
    {"data":{"name":"mar_ner"},"title":{"text":"MAR Shock"},
     "encoding":{"x":{"field":"h","type":"quantitative","scale":{"domain":[0,35],"nice":false},"axis":{"values":[0,5,10,15,20,25,30,35],"title":null}}},
     "layer":[
      {"mark":{"type":"area","color":"#b3ccff","clip":true},"encoding":{"y":{"field":"lo90","type":"quantitative","scale":{"domain":[0,1.5],"nice":false,"zero":false},"axis":{"values":[0,0.5,1,1.5],"title":["Nominal Exchange Rate","log ×100"]}},"y2":{"field":"hi90"}}},
      {"mark":{"type":"area","color":"#8099ff","clip":true},"encoding":{"y":{"field":"lo68","type":"quantitative"},"y2":{"field":"hi68"}}},
      {"mark":{"type":"line","color":"#000000","strokeWidth":1,"clip":true},"encoding":{"y":{"field":"irf","type":"quantitative"}}},
      {"transform":[{"filter":"datum.h == 0"}],"mark":{"type":"rect","filled":false,"stroke":"#262626","strokeWidth":1},"encoding":{"x":{"datum":0},"x2":{"datum":35},"y":{"datum":0},"y2":{"datum":1.5}}}
     ]},
    {"data":{"name":"bs_ner"},"title":{"text":"BS Shock"},
     "encoding":{"x":{"field":"h","type":"quantitative","scale":{"domain":[0,35],"nice":false},"axis":{"values":[0,5,10,15,20,25,30,35],"title":null}}},
     "layer":[
      {"mark":{"type":"area","color":"#b3ccff","clip":true},"encoding":{"y":{"field":"lo90","type":"quantitative","scale":{"domain":[0,1.5],"nice":false,"zero":false},"axis":{"values":[0,0.5,1,1.5],"title":["Nominal Exchange Rate","log ×100"]}},"y2":{"field":"hi90"}}},
      {"mark":{"type":"area","color":"#8099ff","clip":true},"encoding":{"y":{"field":"lo68","type":"quantitative"},"y2":{"field":"hi68"}}},
      {"mark":{"type":"line","color":"#000000","strokeWidth":1,"clip":true},"encoding":{"y":{"field":"irf","type":"quantitative"}}},
      {"transform":[{"filter":"datum.h == 0"}],"mark":{"type":"rect","filled":false,"stroke":"#262626","strokeWidth":1},"encoding":{"x":{"datum":0},"x2":{"datum":35},"y":{"datum":0},"y2":{"datum":1.5}}}
     ]},
    {"data":{"name":"mp_ip"},
     "encoding":{"x":{"field":"h","type":"quantitative","scale":{"domain":[0,35],"nice":false},"axis":{"values":[0,5,10,15,20,25,30,35],"title":null}}},
     "layer":[
      {"mark":{"type":"area","color":"#b3ccff","clip":true},"encoding":{"y":{"field":"lo90","type":"quantitative","scale":{"domain":[-1,0.2],"nice":false,"zero":false},"axis":{"values":[-1,-0.5,0],"title":["Industrial Production","log ×100"]}},"y2":{"field":"hi90"}}},
      {"mark":{"type":"area","color":"#8099ff","clip":true},"encoding":{"y":{"field":"lo68","type":"quantitative"},"y2":{"field":"hi68"}}},
      {"transform":[{"filter":"datum.h == 0"}],"mark":{"type":"rule","color":"#262626","strokeDash":[8,4],"strokeWidth":1},"encoding":{"x":{"datum":0},"x2":{"datum":35},"y":{"datum":0}}},
      {"mark":{"type":"line","color":"#000000","strokeWidth":1,"clip":true},"encoding":{"y":{"field":"irf","type":"quantitative"}}},
      {"transform":[{"filter":"datum.h == 0"}],"mark":{"type":"rect","filled":false,"stroke":"#262626","strokeWidth":1},"encoding":{"x":{"datum":0},"x2":{"datum":35},"y":{"datum":-1},"y2":{"datum":0.2}}}
     ]},
    {"data":{"name":"mar_ip"},
     "encoding":{"x":{"field":"h","type":"quantitative","scale":{"domain":[0,35],"nice":false},"axis":{"values":[0,5,10,15,20,25,30,35],"title":null}}},
     "layer":[
      {"mark":{"type":"area","color":"#b3ccff","clip":true},"encoding":{"y":{"field":"lo90","type":"quantitative","scale":{"domain":[-1,0.2],"nice":false,"zero":false},"axis":{"values":[-1,-0.5,0],"title":["Industrial Production","log ×100"]}},"y2":{"field":"hi90"}}},
      {"mark":{"type":"area","color":"#8099ff","clip":true},"encoding":{"y":{"field":"lo68","type":"quantitative"},"y2":{"field":"hi68"}}},
      {"transform":[{"filter":"datum.h == 0"}],"mark":{"type":"rule","color":"#262626","strokeDash":[8,4],"strokeWidth":1},"encoding":{"x":{"datum":0},"x2":{"datum":35},"y":{"datum":0}}},
      {"mark":{"type":"line","color":"#000000","strokeWidth":1,"clip":true},"encoding":{"y":{"field":"irf","type":"quantitative"}}},
      {"transform":[{"filter":"datum.h == 0"}],"mark":{"type":"rect","filled":false,"stroke":"#262626","strokeWidth":1},"encoding":{"x":{"datum":0},"x2":{"datum":35},"y":{"datum":-1},"y2":{"datum":0.2}}}
     ]},
    {"data":{"name":"bs_ip"},
     "encoding":{"x":{"field":"h","type":"quantitative","scale":{"domain":[0,35],"nice":false},"axis":{"values":[0,5,10,15,20,25,30,35],"title":null}}},
     "layer":[
      {"mark":{"type":"area","color":"#b3ccff","clip":true},"encoding":{"y":{"field":"lo90","type":"quantitative","scale":{"domain":[-1,0.2],"nice":false,"zero":false},"axis":{"values":[-1,-0.5,0],"title":["Industrial Production","log ×100"]}},"y2":{"field":"hi90"}}},
      {"mark":{"type":"area","color":"#8099ff","clip":true},"encoding":{"y":{"field":"lo68","type":"quantitative"},"y2":{"field":"hi68"}}},
      {"transform":[{"filter":"datum.h == 0"}],"mark":{"type":"rule","color":"#262626","strokeDash":[8,4],"strokeWidth":1},"encoding":{"x":{"datum":0},"x2":{"datum":35},"y":{"datum":0}}},
      {"mark":{"type":"line","color":"#000000","strokeWidth":1,"clip":true},"encoding":{"y":{"field":"irf","type":"quantitative"}}},
      {"transform":[{"filter":"datum.h == 0"}],"mark":{"type":"rect","filled":false,"stroke":"#262626","strokeWidth":1},"encoding":{"x":{"datum":0},"x2":{"datum":35},"y":{"datum":-1},"y2":{"datum":0.2}}}
     ]},
    {"data":{"name":"mp_cpi"},
     "encoding":{"x":{"field":"h","type":"quantitative","scale":{"domain":[0,35],"nice":false},"axis":{"values":[0,5,10,15,20,25,30,35],"title":null}}},
     "layer":[
      {"mark":{"type":"area","color":"#b3ccff","clip":true},"encoding":{"y":{"field":"lo90","type":"quantitative","scale":{"domain":[-0.2,0.1],"nice":false,"zero":false},"axis":{"values":[-0.2,-0.1,0,0.1],"title":["CPI","log ×100"]}},"y2":{"field":"hi90"}}},
      {"mark":{"type":"area","color":"#8099ff","clip":true},"encoding":{"y":{"field":"lo68","type":"quantitative"},"y2":{"field":"hi68"}}},
      {"transform":[{"filter":"datum.h == 0"}],"mark":{"type":"rule","color":"#262626","strokeDash":[8,4],"strokeWidth":1},"encoding":{"x":{"datum":0},"x2":{"datum":35},"y":{"datum":0}}},
      {"mark":{"type":"line","color":"#000000","strokeWidth":1,"clip":true},"encoding":{"y":{"field":"irf","type":"quantitative"}}},
      {"transform":[{"filter":"datum.h == 0"}],"mark":{"type":"rect","filled":false,"stroke":"#262626","strokeWidth":1},"encoding":{"x":{"datum":0},"x2":{"datum":35},"y":{"datum":-0.2},"y2":{"datum":0.1}}}
     ]},
    {"data":{"name":"mar_cpi"},
     "encoding":{"x":{"field":"h","type":"quantitative","scale":{"domain":[0,35],"nice":false},"axis":{"values":[0,5,10,15,20,25,30,35],"title":null}}},
     "layer":[
      {"mark":{"type":"area","color":"#b3ccff","clip":true},"encoding":{"y":{"field":"lo90","type":"quantitative","scale":{"domain":[-0.2,0.1],"nice":false,"zero":false},"axis":{"values":[-0.2,-0.1,0,0.1],"title":["CPI","log ×100"]}},"y2":{"field":"hi90"}}},
      {"mark":{"type":"area","color":"#8099ff","clip":true},"encoding":{"y":{"field":"lo68","type":"quantitative"},"y2":{"field":"hi68"}}},
      {"transform":[{"filter":"datum.h == 0"}],"mark":{"type":"rule","color":"#262626","strokeDash":[8,4],"strokeWidth":1},"encoding":{"x":{"datum":0},"x2":{"datum":35},"y":{"datum":0}}},
      {"mark":{"type":"line","color":"#000000","strokeWidth":1,"clip":true},"encoding":{"y":{"field":"irf","type":"quantitative"}}},
      {"transform":[{"filter":"datum.h == 0"}],"mark":{"type":"rect","filled":false,"stroke":"#262626","strokeWidth":1},"encoding":{"x":{"datum":0},"x2":{"datum":35},"y":{"datum":-0.2},"y2":{"datum":0.1}}}
     ]},
    {"data":{"name":"bs_cpi"},
     "encoding":{"x":{"field":"h","type":"quantitative","scale":{"domain":[0,35],"nice":false},"axis":{"values":[0,5,10,15,20,25,30,35],"title":null}}},
     "layer":[
      {"mark":{"type":"area","color":"#b3ccff","clip":true},"encoding":{"y":{"field":"lo90","type":"quantitative","scale":{"domain":[-0.2,0.1],"nice":false,"zero":false},"axis":{"values":[-0.2,-0.1,0,0.1],"title":["CPI","log ×100"]}},"y2":{"field":"hi90"}}},
      {"mark":{"type":"area","color":"#8099ff","clip":true},"encoding":{"y":{"field":"lo68","type":"quantitative"},"y2":{"field":"hi68"}}},
      {"transform":[{"filter":"datum.h == 0"}],"mark":{"type":"rule","color":"#262626","strokeDash":[8,4],"strokeWidth":1},"encoding":{"x":{"datum":0},"x2":{"datum":35},"y":{"datum":0}}},
      {"mark":{"type":"line","color":"#000000","strokeWidth":1,"clip":true},"encoding":{"y":{"field":"irf","type":"quantitative"}}},
      {"transform":[{"filter":"datum.h == 0"}],"mark":{"type":"rect","filled":false,"stroke":"#262626","strokeWidth":1},"encoding":{"x":{"datum":0},"x2":{"datum":35},"y":{"datum":-0.2},"y2":{"datum":0.1}}}
     ]},
    {"data":{"name":"mp_lend"},
     "encoding":{"x":{"field":"h","type":"quantitative","scale":{"domain":[0,35],"nice":false},"axis":{"values":[0,5,10,15,20,25,30,35],"title":null}}},
     "layer":[
      {"mark":{"type":"area","color":"#b3ccff","clip":true},"encoding":{"y":{"field":"lo90","type":"quantitative","scale":{"domain":[-0.15,0.1],"nice":false,"zero":false},"axis":{"values":[-0.1,0,0.1],"title":["Domestic lending rate","annual interest rate"]}},"y2":{"field":"hi90"}}},
      {"mark":{"type":"area","color":"#8099ff","clip":true},"encoding":{"y":{"field":"lo68","type":"quantitative"},"y2":{"field":"hi68"}}},
      {"transform":[{"filter":"datum.h == 0"}],"mark":{"type":"rule","color":"#262626","strokeDash":[8,4],"strokeWidth":1},"encoding":{"x":{"datum":0},"x2":{"datum":35},"y":{"datum":0}}},
      {"mark":{"type":"line","color":"#000000","strokeWidth":1,"clip":true},"encoding":{"y":{"field":"irf","type":"quantitative"}}},
      {"transform":[{"filter":"datum.h == 0"}],"mark":{"type":"rect","filled":false,"stroke":"#262626","strokeWidth":1},"encoding":{"x":{"datum":0},"x2":{"datum":35},"y":{"datum":-0.15},"y2":{"datum":0.1}}}
     ]},
    {"data":{"name":"mar_lend"},
     "encoding":{"x":{"field":"h","type":"quantitative","scale":{"domain":[0,35],"nice":false},"axis":{"values":[0,5,10,15,20,25,30,35],"title":null}}},
     "layer":[
      {"mark":{"type":"area","color":"#b3ccff","clip":true},"encoding":{"y":{"field":"lo90","type":"quantitative","scale":{"domain":[-0.15,0.1],"nice":false,"zero":false},"axis":{"values":[-0.1,0,0.1],"title":["Domestic lending rate","annual interest rate"]}},"y2":{"field":"hi90"}}},
      {"mark":{"type":"area","color":"#8099ff","clip":true},"encoding":{"y":{"field":"lo68","type":"quantitative"},"y2":{"field":"hi68"}}},
      {"transform":[{"filter":"datum.h == 0"}],"mark":{"type":"rule","color":"#262626","strokeDash":[8,4],"strokeWidth":1},"encoding":{"x":{"datum":0},"x2":{"datum":35},"y":{"datum":0}}},
      {"mark":{"type":"line","color":"#000000","strokeWidth":1,"clip":true},"encoding":{"y":{"field":"irf","type":"quantitative"}}},
      {"transform":[{"filter":"datum.h == 0"}],"mark":{"type":"rect","filled":false,"stroke":"#262626","strokeWidth":1},"encoding":{"x":{"datum":0},"x2":{"datum":35},"y":{"datum":-0.15},"y2":{"datum":0.1}}}
     ]},
    {"data":{"name":"bs_lend"},
     "encoding":{"x":{"field":"h","type":"quantitative","scale":{"domain":[0,35],"nice":false},"axis":{"values":[0,5,10,15,20,25,30,35],"title":null}}},
     "layer":[
      {"mark":{"type":"area","color":"#b3ccff","clip":true},"encoding":{"y":{"field":"lo90","type":"quantitative","scale":{"domain":[-0.15,0.1],"nice":false,"zero":false},"axis":{"values":[-0.1,0,0.1],"title":["Domestic lending rate","annual interest rate"]}},"y2":{"field":"hi90"}}},
      {"mark":{"type":"area","color":"#8099ff","clip":true},"encoding":{"y":{"field":"lo68","type":"quantitative"},"y2":{"field":"hi68"}}},
      {"transform":[{"filter":"datum.h == 0"}],"mark":{"type":"rule","color":"#262626","strokeDash":[8,4],"strokeWidth":1},"encoding":{"x":{"datum":0},"x2":{"datum":35},"y":{"datum":0}}},
      {"mark":{"type":"line","color":"#000000","strokeWidth":1,"clip":true},"encoding":{"y":{"field":"irf","type":"quantitative"}}},
      {"transform":[{"filter":"datum.h == 0"}],"mark":{"type":"rect","filled":false,"stroke":"#262626","strokeWidth":1},"encoding":{"x":{"datum":0},"x2":{"datum":35},"y":{"datum":-0.15},"y2":{"datum":0.1}}}
     ]},
    {"data":{"name":"mp_eq"},
     "encoding":{"x":{"field":"h","type":"quantitative","scale":{"domain":[0,35],"nice":false},"axis":{"values":[0,5,10,15,20,25,30,35],"title":null}}},
     "layer":[
      {"mark":{"type":"area","color":"#b3ccff","clip":true},"encoding":{"y":{"field":"lo90","type":"quantitative","scale":{"domain":[-4,1.5],"nice":false,"zero":false},"axis":{"values":[-4,-2,0],"title":["Equity Index","log ×100"]}},"y2":{"field":"hi90"}}},
      {"mark":{"type":"area","color":"#8099ff","clip":true},"encoding":{"y":{"field":"lo68","type":"quantitative"},"y2":{"field":"hi68"}}},
      {"transform":[{"filter":"datum.h == 0"}],"mark":{"type":"rule","color":"#262626","strokeDash":[8,4],"strokeWidth":1},"encoding":{"x":{"datum":0},"x2":{"datum":35},"y":{"datum":0}}},
      {"mark":{"type":"line","color":"#000000","strokeWidth":1,"clip":true},"encoding":{"y":{"field":"irf","type":"quantitative"}}},
      {"transform":[{"filter":"datum.h == 0"}],"mark":{"type":"rect","filled":false,"stroke":"#262626","strokeWidth":1},"encoding":{"x":{"datum":0},"x2":{"datum":35},"y":{"datum":-4},"y2":{"datum":1.5}}}
     ]},
    {"data":{"name":"mar_eq"},
     "encoding":{"x":{"field":"h","type":"quantitative","scale":{"domain":[0,35],"nice":false},"axis":{"values":[0,5,10,15,20,25,30,35],"title":null}}},
     "layer":[
      {"mark":{"type":"area","color":"#b3ccff","clip":true},"encoding":{"y":{"field":"lo90","type":"quantitative","scale":{"domain":[-4,1.5],"nice":false,"zero":false},"axis":{"values":[-4,-2,0],"title":["Equity Index","log ×100"]}},"y2":{"field":"hi90"}}},
      {"mark":{"type":"area","color":"#8099ff","clip":true},"encoding":{"y":{"field":"lo68","type":"quantitative"},"y2":{"field":"hi68"}}},
      {"transform":[{"filter":"datum.h == 0"}],"mark":{"type":"rule","color":"#262626","strokeDash":[8,4],"strokeWidth":1},"encoding":{"x":{"datum":0},"x2":{"datum":35},"y":{"datum":0}}},
      {"mark":{"type":"line","color":"#000000","strokeWidth":1,"clip":true},"encoding":{"y":{"field":"irf","type":"quantitative"}}},
      {"transform":[{"filter":"datum.h == 0"}],"mark":{"type":"rect","filled":false,"stroke":"#262626","strokeWidth":1},"encoding":{"x":{"datum":0},"x2":{"datum":35},"y":{"datum":-4},"y2":{"datum":1.5}}}
     ]},
    {"data":{"name":"bs_eq"},
     "encoding":{"x":{"field":"h","type":"quantitative","scale":{"domain":[0,35],"nice":false},"axis":{"values":[0,5,10,15,20,25,30,35],"title":null}}},
     "layer":[
      {"mark":{"type":"area","color":"#b3ccff","clip":true},"encoding":{"y":{"field":"lo90","type":"quantitative","scale":{"domain":[-4,1.5],"nice":false,"zero":false},"axis":{"values":[-4,-2,0],"title":["Equity Index","log ×100"]}},"y2":{"field":"hi90"}}},
      {"mark":{"type":"area","color":"#8099ff","clip":true},"encoding":{"y":{"field":"lo68","type":"quantitative"},"y2":{"field":"hi68"}}},
      {"transform":[{"filter":"datum.h == 0"}],"mark":{"type":"rule","color":"#262626","strokeDash":[8,4],"strokeWidth":1},"encoding":{"x":{"datum":0},"x2":{"datum":35},"y":{"datum":0}}},
      {"mark":{"type":"line","color":"#000000","strokeWidth":1,"clip":true},"encoding":{"y":{"field":"irf","type":"quantitative"}}},
      {"transform":[{"filter":"datum.h == 0"}],"mark":{"type":"rect","filled":false,"stroke":"#262626","strokeWidth":1},"encoding":{"x":{"datum":0},"x2":{"datum":35},"y":{"datum":-4},"y2":{"datum":1.5}}}
     ]}
  ],
  "config": {
    "view": {"continuousWidth": 408, "continuousHeight": 128, "stroke": null},
    "title": {"font": "Liberation Serif", "fontSize": 35, "fontWeight": "normal", "color": "#000000", "anchor": "middle", "frame": "group", "offset": -14},
    "axis": {
      "grid": true, "gridColor": "#dcdcdc", "gridWidth": 1,
      "domain": false, "ticks": false,
      "labelFont": "Liberation Sans", "labelFontSize": 15, "labelColor": "#262626",
      "labelExpr": "toString(datum.value)",
      "labelFlush": false, "labelOverlap": false, "labelPadding": 5,
      "titleFont": "Liberation Serif", "titleFontSize": 18, "titleFontWeight": "normal", "titleColor": "#262626", "titleLineHeight": 19
    },
    "axisY": {"minExtent": 32, "maxExtent": 32, "titlePadding": 2}
  }
}
